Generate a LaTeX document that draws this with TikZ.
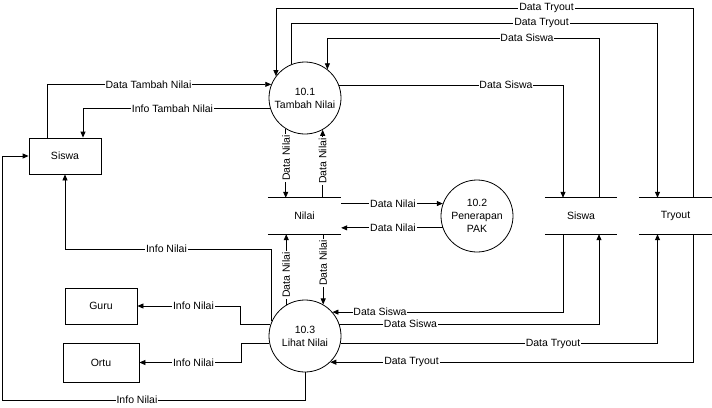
\documentclass[tikz,border=0pt]{standalone}
\usepackage{fontspec}
\setmainfont{Liberation Sans}
\usetikzlibrary{arrows.meta}
\begin{document}
\begin{tikzpicture}[x=1pt,y=-1pt,
  every node/.style={font=\fontsize{10.5}{13}\selectfont},
  proc/.style={draw, circle, minimum size=72pt, inner sep=0pt, align=center, line width=0.8pt},
  entity/.style={draw, rectangle, minimum width=72pt, minimum height=36pt, inner sep=0pt, line width=0.8pt},
  store/.style={minimum width=73pt, minimum height=36pt, inner sep=0pt},
  flow/.style={line width=0.8pt},
  arr/.style={flow, -{Triangle[length=6pt,width=5pt]}},
  lbl/.style={fill=white, inner sep=0.8pt},
  vlbl/.style={lbl, rotate=90},
]
\useasboundingbox (0,0) rectangle (712,407);

% processes
\node[proc] (A) at (305,98) {10.1\\Tambah Nilai};
\node[proc] (B) at (477,216) {10.2\\Penerapan\\PAK};
\node[proc] (C) at (305,336) {10.3\\Lihat Nilai};

% external entities
\node[entity] (siswa) at (65,156) {Siswa};
\node[entity] (guru) at (101,306) {Guru};
\node[entity, minimum width=76pt, minimum height=39pt] (ortu) at (101,362.5) {Ortu};

% data stores
\node[store] (nilai) at (304.5,216) {Nilai};
\node[store, minimum width=72pt] (dsiswa) at (581,216) {Siswa};
\node[store] (dtryout) at (675.5,216) {Tryout};
\foreach \s in {nilai,dsiswa,dtryout}{
  \draw[flow] (\s.north west) -- (\s.north east);
  \draw[flow] (\s.south west) -- (\s.south east);
}

% ports on stores and entities
\coordinate (sN1) at ([xshift=-18pt]dsiswa.north);
\coordinate (sN2) at ([xshift=18pt]dsiswa.north);
\coordinate (sS1) at ([xshift=-18pt]dsiswa.south);
\coordinate (sS2) at ([xshift=18pt]dsiswa.south);
\coordinate (tN1) at ([xshift=-18pt]dtryout.north);
\coordinate (tN2) at ([xshift=18pt]dtryout.north);
\coordinate (tS1) at ([xshift=-18pt]dtryout.south);
\coordinate (tS2) at ([xshift=18pt]dtryout.south);
\coordinate (sw1) at ([xshift=-18pt]siswa.north);
\coordinate (sw2) at ([xshift=18pt]siswa.north);

% routing levels
\coordinate (y8) at (0,8);
\coordinate (y23) at (0,23);
\coordinate (y38) at (0,38);
\coordinate (y249) at (0,249);
\coordinate (lb) at (2,400);
\coordinate (g1) at (240,0);
\coordinate (o1) at (241,0);

% Siswa <-> 10.1
\draw[arr] (sw1) |- (A.158.8);
\draw[arr] (A.197.8) -| (sw2);

% 10.1 <-> Nilai
\draw[arr] (A.238.2) -- (A.238.2 |- nilai.north);
\draw[arr] (A.299 |- nilai.north) -- (A.299);

% Nilai <-> 10.3
\draw[arr] (C.121.8) -- (C.121.8 |- nilai.south);
\draw[arr] (C.60 |- nilai.south) -- (C.60);

% Nilai <-> 10.2
\draw[arr] (B.160.5 -| nilai.east) -- (B.160.5);
\draw[arr] (B.199.5) -- (B.199.5 -| nilai.east);

% 10.1 <-> stores (top)
\draw[arr] (tN2) |- (A.143.7 |- y8) -- (A.143.7);
\draw[arr] (A.112.9) |- (tN1 |- y23) -- (tN1);
\draw[arr] (sN2) |- (A.52.3 |- y38) -- (A.52.3);
\draw[arr] (A.21.2) -| (sN1);

% 10.3 <-> stores (bottom)
\draw[arr] (sS1) |- (C.41.8);
\draw[arr] (C.19.5) -| (sS2);
\draw[arr] (C.-12.8) -| (tS1);
\draw[arr] (tS2) |- (C.-46.2);

% 10.3 -> entities
\draw[arr] (C.156.4) -- (C.156.4 |- y249) -| (siswa.south);
\draw[arr] (C.162.2) -- (C.162.2 -| g1) |- (guru.east);
\draw[arr] (C.192.8) -- (C.192.8 -| o1) |- (ortu.east);
\draw[arr] (C.south) |- (lb) |- (siswa.west);

% flow labels
\node[lbl] (l1) at (148.5,85) {Data Tambah Nilai};
\node[lbl] (l2) at (172.5,109) {Info Tambah Nilai};
\node[vlbl] (l3) at (286,158) {Data Nilai};
\node[vlbl] (l4) at (322.5,161) {Data Nilai};
\node[vlbl] (l5) at (286,275) {Data Nilai};
\node[vlbl] (l6) at (323,263) {Data Nilai};
\node[lbl] (l7) at (393,204) {Data Nilai};
\node[lbl] (l8) at (393,228) {Data Nilai};
\node[lbl] (l9) at (546.5,8) {Data Tryout};
\node[lbl] (l10) at (541.5,23) {Data Tryout};
\node[lbl] (l11) at (527,38) {Data Siswa};
\node[lbl] (l12) at (506,85) {Data Siswa};
\node[lbl] (l13) at (380,312) {Data Siswa};
\node[lbl] (l14) at (410.5,324) {Data Siswa};
\node[lbl] (l15) at (553,344) {Data Tryout};
\node[lbl] (l16) at (411.5,362) {Data Tryout};
\node[lbl] (l17) at (166.5,249) {Info Nilai};
\node[lbl] (l18) at (193.5,306) {Info Nilai};
\node[lbl] (l19) at (193.5,363) {Info Nilai};
\node[lbl] (l20) at (137,400) {Info Nilai};
\end{tikzpicture}
\end{document}
